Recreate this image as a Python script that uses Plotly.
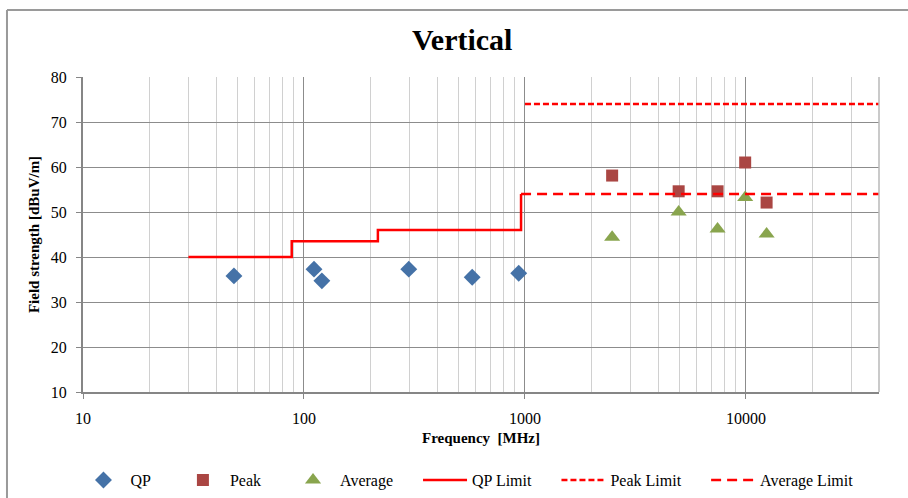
import plotly.graph_objects as go

# Measured emissions, vertical polarisation
qp_freq = [48.2, 111, 120.5, 298, 577, 937]
qp_level = [35.8, 37.3, 34.7, 37.3, 35.5, 36.4]

peak_freq = [2480, 4960, 7440, 9920, 12400]
peak_level = [58.1, 54.6, 54.6, 61.0, 52.1]

avg_freq = [2480, 4960, 7440, 9920, 12400]
avg_level = [44.4, 50.0, 46.2, 53.2, 45.1]

# Limit lines
qp_limit_freq = [30, 88, 88, 216, 216, 960, 960]
qp_limit_level = [40, 40, 43.5, 43.5, 46, 46, 54]

peak_limit_freq = [1000, 40000]
peak_limit_level = [74, 74]

avg_limit_freq = [960, 40000]
avg_limit_level = [54, 54]

x_ticks = [10, 100, 1000, 10000]
y_ticks = [10, 20, 30, 40, 50, 60, 70, 80]

FONT = "Liberation Serif, Times New Roman, serif"
RED = "#FF0000"
PAD = "\u00a0" * 5

fig = go.Figure()
fig.add_trace(go.Scatter(x=qp_freq, y=qp_level, mode="markers", name="QP" + PAD,
                         marker=dict(symbol="diamond", size=13, color="#4572A7")))
fig.add_trace(go.Scatter(x=peak_freq, y=peak_level, mode="markers", name="Peak" + PAD,
                         marker=dict(symbol="square", size=12, color="#AA4643")))
fig.add_trace(go.Scatter(x=avg_freq, y=avg_level, mode="markers", name="Average" + PAD,
                         marker=dict(symbol="triangle-up", size=14, color="#89A54E")))
fig.add_trace(go.Scatter(x=qp_limit_freq, y=qp_limit_level, mode="lines", name="QP Limit" + PAD,
                         line=dict(color=RED, width=2.5)))
fig.add_trace(go.Scatter(x=peak_limit_freq, y=peak_limit_level, mode="lines", name="Peak Limit" + PAD,
                         line=dict(color=RED, width=2.5, dash="6px,3px")))
fig.add_trace(go.Scatter(x=avg_limit_freq, y=avg_limit_level, mode="lines", name="Average Limit",
                         line=dict(color=RED, width=2.5, dash="10px,6px")))

fig.update_layout(
    width=908, height=498,
    margin=dict(l=83, r=29, t=77, b=106),
    paper_bgcolor="white", plot_bgcolor="white",
    font=dict(family=FONT, size=16, color="black"),
    title=dict(text="<b>Vertical</b>", x=0.509, xref="container", xanchor="center",
               y=0.92, yref="container", yanchor="middle",
               font=dict(family=FONT, size=30, color="black")),
    legend=dict(orientation="h", x=0.483, xanchor="center",
                y=0.036, yref="container", yanchor="middle",
                itemwidth=44,
                font=dict(family=FONT, size=16), bgcolor="rgba(0,0,0,0)"),
    xaxis=dict(
        type="log", range=[1, 4.60206],
        tickvals=x_ticks, ticktext=[str(v) for v in x_ticks],
        ticks="outside", ticklen=5, tickcolor="#868686",
        showline=True, linecolor="#868686", linewidth=2,
        showgrid=True, gridcolor="#8c8c8c", gridwidth=1,
        minor=dict(showgrid=True, gridcolor="#d0d0d0", gridwidth=1, ticks="", dtick="D1"),
        ticklabelstandoff=6,
        tickfont=dict(family=FONT, size=16),
        title=dict(text="<b>Frequency  [MHz]</b>", font=dict(family=FONT, size=15), standoff=6),
        zeroline=False,
    ),
    yaxis=dict(
        range=[10, 80], tickvals=y_ticks,
        ticks="outside", ticklen=5, tickcolor="#868686",
        showline=True, linecolor="#868686", linewidth=2,
        showgrid=True, gridcolor="#8c8c8c", gridwidth=1,
        ticklabelstandoff=6,
        tickfont=dict(family=FONT, size=16),
        title=dict(text="<b>Field strength [dBuV/m]</b>", font=dict(family=FONT, size=15), standoff=8),
        zeroline=False,
    ),
    shapes=[
        # right edge of the plotting area
        dict(type="line", xref="paper", yref="paper", x0=1, x1=1, y0=0, y1=1,
             line=dict(color="#b8b8b8", width=1.5)),
        # chart frame (top and left)
        dict(type="line", xref="paper", yref="paper", x0=-0.0955, x1=1.05, y0=1.2127, y1=1.2127,
             line=dict(color="#9a9a9a", width=2)),
        dict(type="line", xref="paper", yref="paper", x0=-0.0955, x1=-0.0955, y0=1.2127, y1=-0.4,
             line=dict(color="#9a9a9a", width=2)),
    ],
    showlegend=True,
)

fig.write_html("out.html")
